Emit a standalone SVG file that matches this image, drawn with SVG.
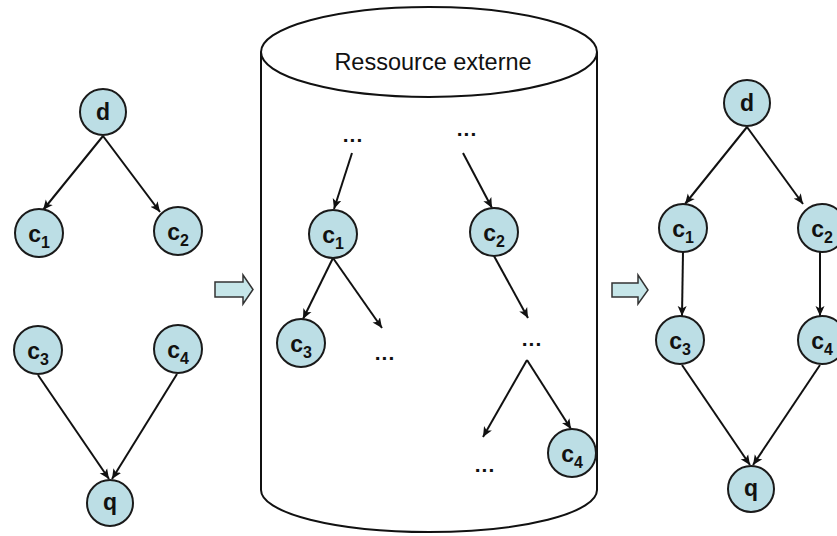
<svg xmlns="http://www.w3.org/2000/svg" width="837" height="536" viewBox="0 0 837 536">
<defs>
<marker id="ah" markerUnits="userSpaceOnUse" markerWidth="12" markerHeight="10" refX="10" refY="5" orient="auto">
<path d="M0,0.5 L10,5 L0,9.5 L2.5,5 Z" fill="#111"/>
</marker>
<style>
.n circle{fill:#bcdee5;stroke:#1a1a1a;stroke-width:2}
.n text{font-family:"Liberation Sans",Arial,sans-serif;font-weight:bold;font-size:23px;fill:#111;text-anchor:middle}
.n tspan.s{font-size:16px}
.e line{stroke:#111;stroke-width:2;marker-end:url(#ah)}
.dots{font-family:"Liberation Sans",Arial,sans-serif;font-weight:bold;font-size:21px;fill:#111;text-anchor:middle;letter-spacing:1px}
.blk{fill:#c6e6e9;stroke:#333;stroke-width:1.5}
</style>
</defs>
<rect width="837" height="536" fill="#fff"/>

<!-- cylinder -->
<g id="cylinder">
<path d="M261,52 V490 A168,42 0 0 0 597,490 V52" fill="#fff" stroke="#111" stroke-width="2"/>
<ellipse cx="429" cy="52" rx="168" ry="45" fill="#fff" stroke="#111" stroke-width="2"/>
<text x="433" y="70" font-family="&quot;Liberation Sans&quot;,Arial,sans-serif" font-size="23.5" text-anchor="middle" fill="#111">Ressource externe</text>
</g>

<!-- block arrows -->
<g id="arrow-left"><path class="blk" d="M215,282 H243 V275 L253,289.5 L243,304 V297 H215 Z"/></g>
<g id="arrow-right"><path class="blk" d="M612,283 H638 V275 L648,290 L638,304 V297 H612 Z"/></g>

<g id="connectors" class="e">
<!-- left -->
<line x1="103" y1="136" x2="43" y2="210"/>
<line x1="103" y1="136" x2="160" y2="212"/>
<line x1="38" y1="375" x2="109" y2="479"/>
<line x1="177" y1="374" x2="112" y2="479"/>
<!-- middle -->
<line x1="352" y1="153" x2="334" y2="209"/>
<line x1="463" y1="153" x2="492" y2="208"/>
<line x1="333" y1="258" x2="303" y2="319"/>
<line x1="333" y1="258" x2="382" y2="328"/>
<line x1="494" y1="256" x2="528" y2="318"/>
<line x1="527" y1="360" x2="483" y2="437"/>
<line x1="527" y1="360" x2="571" y2="429"/>
<!-- right -->
<line x1="747" y1="127" x2="685" y2="204"/>
<line x1="747" y1="127" x2="803" y2="204"/>
<line x1="683" y1="252" x2="682" y2="316"/>
<line x1="820" y1="252" x2="820" y2="316"/>
<line x1="682" y1="365" x2="750" y2="465"/>
<line x1="820" y1="365" x2="753" y2="465"/>
</g>

<!-- left graph -->
<g id="L-d" class="n"><circle cx="103" cy="112" r="23"/><text x="103" y="120">d</text></g>
<g id="L-c1" class="n"><circle cx="39" cy="233" r="24"/><text x="39" y="242">c<tspan class="s" dy="6">1</tspan></text></g>
<g id="L-c2" class="n"><circle cx="178" cy="231" r="24"/><text x="178" y="240">c<tspan class="s" dy="6">2</tspan></text></g>
<g id="L-c3" class="n"><circle cx="38" cy="350" r="24"/><text x="38" y="359">c<tspan class="s" dy="6">3</tspan></text></g>
<g id="L-c4" class="n"><circle cx="178" cy="349" r="24"/><text x="178" y="358">c<tspan class="s" dy="6">4</tspan></text></g>
<g id="L-q" class="n"><circle cx="110" cy="503" r="23"/><text x="110" y="510">q</text></g>

<!-- middle graph -->
<text class="dots" x="353" y="142">...</text>
<text class="dots" x="467" y="136">...</text>
<g id="M-c1" class="n"><circle cx="333" cy="234" r="24"/><text x="333" y="243">c<tspan class="s" dy="6">1</tspan></text></g>
<g id="M-c2" class="n"><circle cx="494" cy="232" r="24"/><text x="494" y="241">c<tspan class="s" dy="6">2</tspan></text></g>
<g id="M-c3" class="n"><circle cx="301" cy="343" r="24"/><text x="301" y="352">c<tspan class="s" dy="6">3</tspan></text></g>
<text class="dots" x="385" y="360">...</text>
<text class="dots" x="532" y="346">...</text>
<g id="M-c4" class="n"><circle cx="572" cy="453" r="24"/><text x="572" y="462">c<tspan class="s" dy="6">4</tspan></text></g>
<text class="dots" x="485" y="472">...</text>

<!-- right graph -->
<g id="R-d" class="n"><circle cx="747" cy="103" r="23"/><text x="747" y="111">d</text></g>
<g id="R-c1" class="n"><circle cx="683" cy="228" r="24"/><text x="683" y="237">c<tspan class="s" dy="6">1</tspan></text></g>
<g id="R-c2" class="n"><circle cx="822" cy="228" r="24"/><text x="822" y="237">c<tspan class="s" dy="6">2</tspan></text></g>
<g id="R-c3" class="n"><circle cx="680" cy="340" r="24"/><text x="680" y="349">c<tspan class="s" dy="6">3</tspan></text></g>
<g id="R-c4" class="n"><circle cx="822" cy="340" r="24"/><text x="822" y="349">c<tspan class="s" dy="6">4</tspan></text></g>
<g id="R-q" class="n"><circle cx="751" cy="489" r="23"/><text x="751" y="496">q</text></g>
</svg>
